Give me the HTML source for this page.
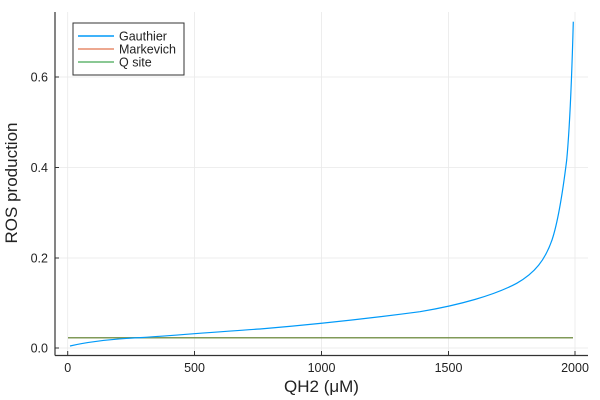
<!DOCTYPE html>
<html><head><meta charset="utf-8"><style>body{margin:0;background:#fff}svg{display:block}</style></head><body>
<svg width="600" height="400" xmlns="http://www.w3.org/2000/svg" font-family="Liberation Sans, DejaVu Sans, sans-serif">
<rect width="600" height="400" fill="#fff"/>
<g stroke="#e9e9e9" stroke-width="0.8">
<line x1="67.7" y1="12" x2="67.7" y2="355"/><line x1="194.5" y1="12" x2="194.5" y2="355"/><line x1="321.5" y1="12" x2="321.5" y2="355"/><line x1="448.5" y1="12" x2="448.5" y2="355"/><line x1="575" y1="12" x2="575" y2="355"/>
<line x1="55" y1="348" x2="588" y2="348"/><line x1="55" y1="258" x2="588" y2="258"/><line x1="55" y1="167.5" x2="588" y2="167.5"/><line x1="55" y1="77" x2="588" y2="77"/>
</g>
<g stroke="#333" stroke-width="1.2">
<line x1="55" y1="12" x2="55" y2="355.5"/><line x1="55" y1="355.5" x2="588" y2="355.5"/>
</g>
<g stroke="#333" stroke-width="1">
<line x1="67.7" y1="355" x2="67.7" y2="351"/><line x1="194.5" y1="355" x2="194.5" y2="351"/><line x1="321.5" y1="355" x2="321.5" y2="351"/><line x1="448.5" y1="355" x2="448.5" y2="351"/><line x1="575" y1="355" x2="575" y2="351"/>
<line x1="55" y1="348" x2="59" y2="348"/><line x1="55" y1="258" x2="59" y2="258"/><line x1="55" y1="167.5" x2="59" y2="167.5"/><line x1="55" y1="77" x2="59" y2="77"/>
</g>
<g font-size="12.5" fill="#222" text-anchor="middle">
<text x="67.7" y="372">0</text><text x="194.5" y="372">500</text><text x="321.5" y="372">1000</text><text x="448.5" y="372">1500</text><text x="575" y="372">2000</text>
</g>
<g font-size="12.5" fill="#222" text-anchor="end">
<text x="48" y="352.5">0.0</text><text x="48" y="262.5">0.2</text><text x="48" y="172">0.4</text><text x="48" y="81.5">0.6</text>
</g>
<text x="321.5" y="392" font-size="17" text-anchor="middle" fill="#222">QH2 (μM)</text>
<text transform="translate(17,183) rotate(-90)" font-size="17" text-anchor="middle" fill="#222">ROS production</text>
<line x1="68" y1="337.7" x2="573" y2="337.7" stroke="#e26f46" stroke-width="1.5" opacity="0.8"/>
<line x1="68" y1="337.7" x2="573" y2="337.7" stroke="#3da44d" stroke-width="1.5" opacity="0.6"/>
<path fill="none" stroke="#009af9" stroke-width="1.2" d="M70,346 C85,342.5 110,339 143,337.5 C180,335 220,331.5 260,329 C320,324 380,317 420,311.7 C460,305 495,295 516.7,283.3 C535,273 545,260 552,240 C558,222 563,190 566.7,160 C569.5,130 572,70 573.3,21.7"/>
<rect x="73" y="23" width="111" height="52" fill="#fff" stroke="#333" stroke-width="1"/>
<line x1="78" y1="36" x2="114" y2="36" stroke="#009af9" stroke-width="1.5"/>
<line x1="78" y1="49" x2="114" y2="49" stroke="#e26f46" stroke-width="1.5" opacity="0.8"/>
<line x1="78" y1="62" x2="114" y2="62" stroke="#3da44d" stroke-width="1.5" opacity="0.8"/>
<g font-size="12.5" fill="#222"><text x="119" y="40.5">Gauthier</text><text x="119" y="53.5">Markevich</text><text x="119" y="66.5">Q site</text></g>
</svg>
</body></html>
